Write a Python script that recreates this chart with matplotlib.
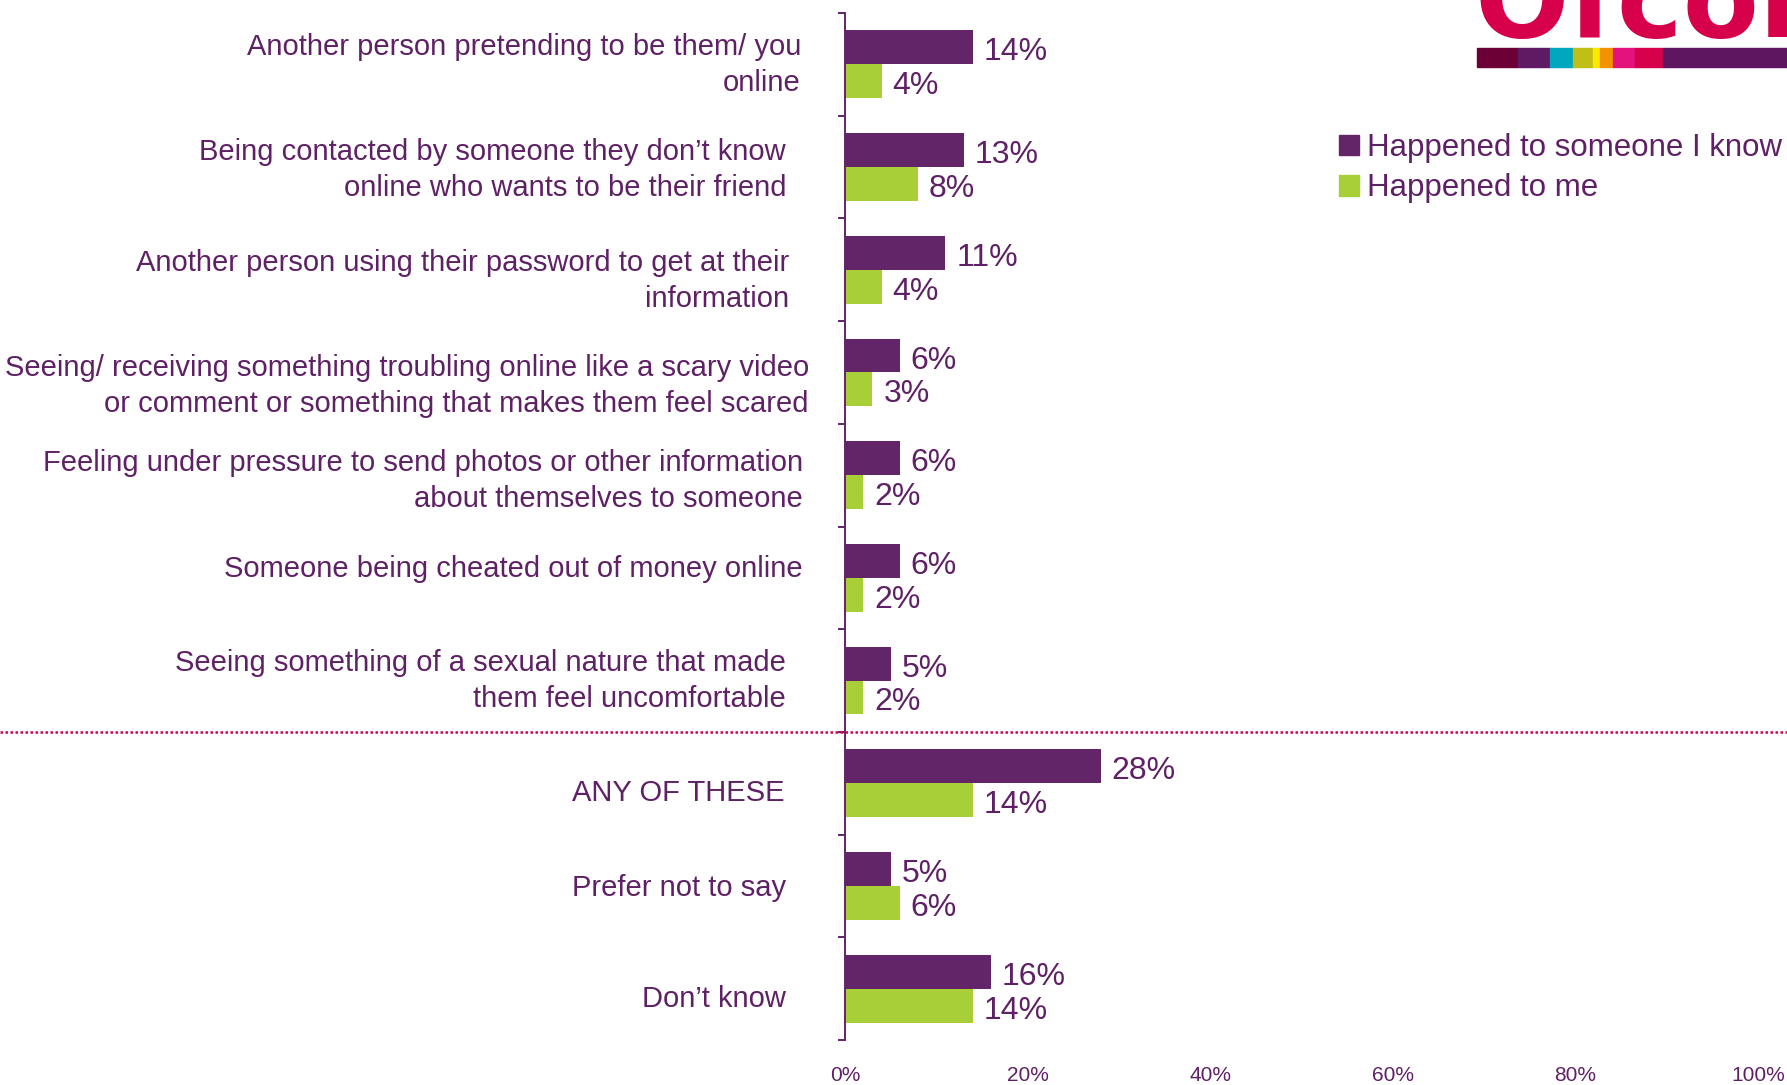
import matplotlib
matplotlib.use('Agg')
import matplotlib.pyplot as plt
from matplotlib.patches import Patch, Rectangle
from matplotlib.transforms import ScaledTranslation, blended_transform_factory

# Data
categories = [
    'Another person pretending to be them/ you\nonline',
    'Being contacted by someone they don\u2019t know\nonline who wants to be their friend',
    'Another person using their password to get at their\ninformation',
    'Seeing/ receiving something troubling online like a scary video\nor comment or something that makes them feel scared',
    'Feeling under pressure to send photos or other information\nabout themselves to someone',
    'Someone being cheated out of money online',
    'Seeing something of a sexual nature that made\nthem feel uncomfortable',
    'ANY OF THESE',
    'Prefer not to say',
    'Don\u2019t know',
]
someone_i_know = [14, 13, 11, 6, 6, 6, 5, 28, 5, 16]
happened_to_me = [4, 8, 4, 3, 2, 2, 2, 14, 6, 14]
series_names = ['Happened to someone I know', 'Happened to me']
x_ticks = [0, 20, 40, 60, 80, 100]
x_tick_labels = ['0%', '20%', '40%', '60%', '80%', '100%']

# Layout / style (label offsets in pixels, as in the slide)
label_pad_px = [44, 59, 56, 36, 42, 42, 59, 60, 59, 59]
label_dy_px = [1, 3, 11, 14, 6, -9, 0, 10, 2, 10]
purple = '#622568'
green = '#A8CE38'
text_col = '#5F2165'
crimson = '#D6004B'

W, H = 1787, 1085
fig = plt.figure(figsize=(W / 100, H / 100), dpi=100)
ax = fig.add_axes([845 / W, 1 - 1040 / H, (1758 - 845) / W, (1040 - 13) / H])

n = len(categories)
pos = list(range(n))
bh = 0.33
ax.barh([p - bh / 2 for p in pos], someone_i_know, height=bh, color=purple, label=series_names[0])
ax.barh([p + bh / 2 for p in pos], happened_to_me, height=bh, color=green, label=series_names[1])

off = ScaledTranslation(11 / 100, -5 / 100, fig.dpi_scale_trans)
for p, a, b in zip(pos, someone_i_know, happened_to_me):
    ax.text(a, p - bh / 2, f'{a}%', va='center', ha='left', fontsize=23, color=text_col,
            family='Liberation Sans', transform=ax.transData + off)
    ax.text(b, p + bh / 2, f'{b}%', va='center', ha='left', fontsize=23, color=text_col,
            family='Liberation Sans', transform=ax.transData + off)

# category labels
ytr = ax.get_yaxis_transform()
for p, lab, pad, dy in zip(pos, categories, label_pad_px, label_dy_px):
    ax.text(0, p, lab, ha='right', va='center', fontsize=21, color=text_col,
            family='Liberation Sans', multialignment='right', linespacing=1.36,
            transform=ytr + ScaledTranslation(-pad / 100, -dy / 100, fig.dpi_scale_trans))

ax.set_xlim(0, 100)
ax.set_ylim(n - 0.5, -0.5)
ax.set_yticks([p - 0.5 for p in pos] + [n - 0.5])
ax.set_yticklabels([])
ax.tick_params(axis='y', direction='out', length=5, width=1.4, color=purple)
ax.set_xticks(x_ticks)
ax.set_xticklabels(x_tick_labels, fontsize=15, color=text_col,
                   family=['Liberation Sans Narrow', 'Liberation Sans'])
ax.tick_params(axis='x', length=0, pad=19)
for s in ['top', 'right', 'bottom']:
    ax.spines[s].set_visible(False)
ax.spines['left'].set_color(purple)
ax.spines['left'].set_linewidth(1.4)

# dotted separator across the full width
trans = blended_transform_factory(fig.transFigure, ax.transData)
ax.plot([0, 1], [6.5, 6.5], transform=trans, clip_on=False, color=crimson,
        lw=1.8, linestyle=(0, (1, 1)))

# legend
handles = [Patch(color=purple), Patch(color=green)]
fig.legend(handles, series_names, loc='upper left', bbox_to_anchor=(1339 / W, 1 - 133 / H),
           frameon=False, labelcolor=text_col, handlelength=0.65, handleheight=0.65,
           handletextpad=0.25, labelspacing=0.33, borderpad=0, borderaxespad=0,
           prop={'family': 'Liberation Sans', 'size': 22.5})

# logo (top right)
fig.text(1474 / W, 1 - 37 / H, 'Ofcom', fontsize=80, fontweight='bold', color=crimson,
         family='DejaVu Sans', ha='left', va='baseline')
strip_x = [1477, 1518, 1550, 1573, 1593, 1600, 1613, 1635, 1663, 1787]
strip_c = ['#6B0036', '#5E1A63', '#00A7BF', '#BFBF17', '#FFE800', '#F39200', '#E4137B', '#D6004B', '#5E1660']
for x0, x1, c in zip(strip_x[:-1], strip_x[1:], strip_c):
    fig.add_artist(Rectangle((x0 / W, 1 - 67 / H), (x1 - x0) / W, 19 / H, color=c,
                             transform=fig.transFigure))

fig.savefig('out.png', dpi=100)
